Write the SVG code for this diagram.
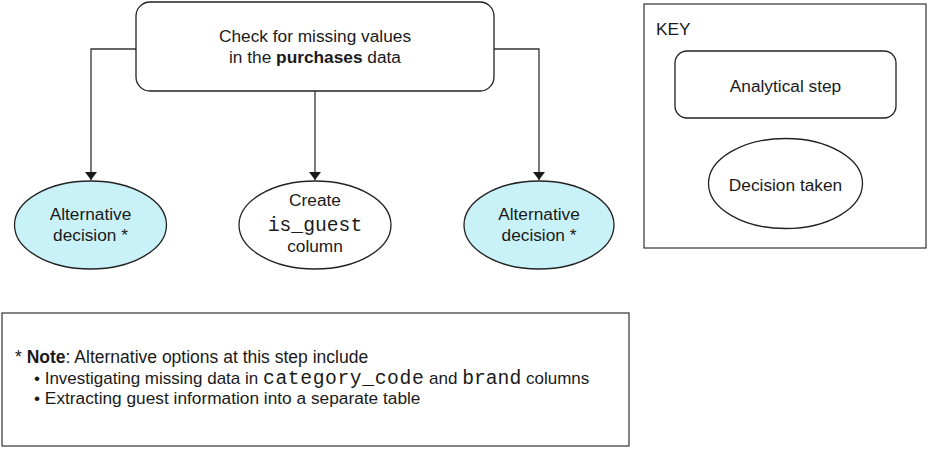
<svg xmlns="http://www.w3.org/2000/svg" width="929" height="449" viewBox="0 0 929 449">
<style>
.box{fill:#fff;stroke:#222;stroke-width:1.3}
.alt{fill:#c8f2f8;stroke:#222;stroke-width:1.3}
.dec{fill:#fff;stroke:#222;stroke-width:1.3}
.frame{fill:none;stroke:#333;stroke-width:1.2}
.conn{fill:none;stroke:#333;stroke-width:1.3}
text{font-family:"Liberation Sans",Arial,sans-serif;font-size:17.3px;fill:#1a1a1a}
.c{text-anchor:middle}
.m{font-family:"Liberation Mono","Courier New",monospace;font-size:19.7px}
.b{font-weight:bold}
</style>
<defs>
<marker id="ah" viewBox="0 0 8 12" refX="8" refY="6" markerWidth="8" markerHeight="12" markerUnits="userSpaceOnUse" orient="auto">
<path d="M0,0 L8,6 L0,12 z" fill="#1a1a1a"/>
</marker>
</defs>
<g id="connectors">
<path class="conn" d="M136,49 H91 V180" marker-end="url(#ah)"/>
<path class="conn" d="M315,91 V180" marker-end="url(#ah)"/>
<path class="conn" d="M494,49 H539 V180" marker-end="url(#ah)"/>
</g>
<g id="step">
<rect class="box" x="136" y="2" width="358" height="89" rx="14"/>
<text class="c" x="315" y="42">Check for missing values</text>
<text class="c" x="315" y="63">in the <tspan class="b">purchases</tspan> data</text>
</g>
<g id="alt-left">
<ellipse class="alt" cx="90.5" cy="225" rx="76" ry="44"/>
<text class="c" x="90.5" y="220">Alternative</text>
<text class="c" x="90.5" y="241">decision *</text>
</g>
<g id="decision">
<ellipse class="dec" cx="315" cy="225" rx="76" ry="44"/>
<text class="c" x="315" y="206">Create</text>
<text class="c m" x="315" y="231">is_guest</text>
<text class="c" x="315" y="252">column</text>
</g>
<g id="alt-right">
<ellipse class="alt" cx="539" cy="225" rx="75" ry="44"/>
<text class="c" x="539" y="220">Alternative</text>
<text class="c" x="539" y="241">decision *</text>
</g>
<g id="key">
<rect class="frame" x="644" y="4" width="282" height="244"/>
<text x="656" y="35">KEY</text>
<rect class="box" x="675" y="51" width="221" height="67" rx="12"/>
<text class="c" x="785.5" y="92">Analytical step</text>
<ellipse class="dec" cx="785.5" cy="183.5" rx="77" ry="45"/>
<text class="c" x="785.5" y="191">Decision taken</text>
</g>
<g id="note">
<rect class="frame" x="2" y="313" width="627" height="133"/>
<text x="15" y="363" style="font-size:17.5px">* <tspan class="b">Note</tspan>: Alternative options at this step include</text>
<text x="34" y="384" style="font-size:17px">• Investigating missing data in <tspan class="m" style="letter-spacing:0.6px">category_code</tspan> and <tspan class="m">brand</tspan> columns</text>
<text x="34" y="404">• Extracting guest information into a separate table</text>
</g>
</svg>
